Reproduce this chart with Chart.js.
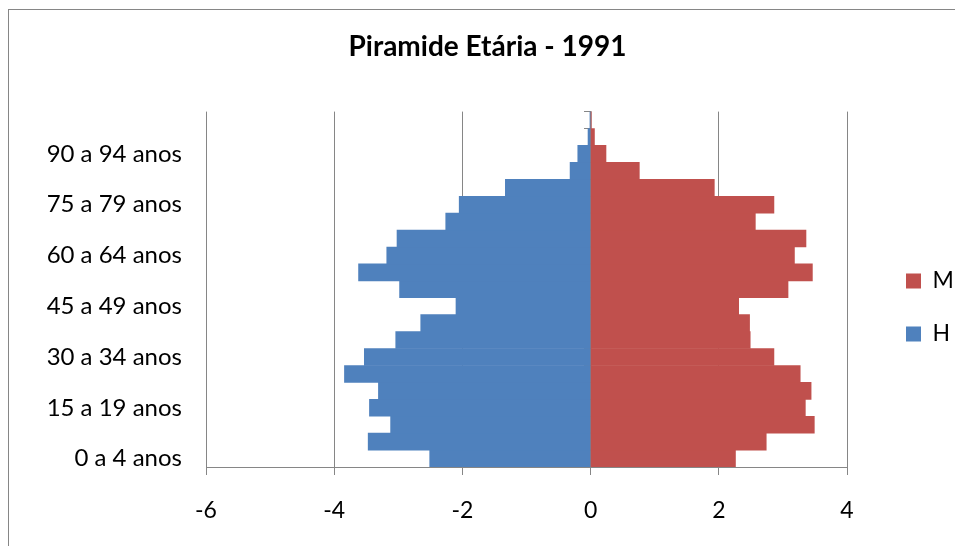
<!DOCTYPE html>
<html>
<head>
<meta charset="utf-8">
<script src="https://cdn.jsdelivr.net/npm/chart.js@4.4.1/dist/chart.umd.min.js"></script>
<style>
  html, body { margin: 0; padding: 0; background: #ffffff; }
  #wrap { width: 955px; height: 546px; }
</style>
</head>
<body>
<div id="wrap"><canvas id="c" width="955" height="546"></canvas></div>
<script>
const ageGroups = ['0 a 4 anos','5 a 9 anos','10 a 14 anos','15 a 19 anos','20 a 24 anos','25 a 29 anos','30 a 34 anos','35 a 39 anos','40 a 44 anos','45 a 49 anos','50 a 54 anos','55 a 59 anos','60 a 64 anos','65 a 69 anos','70 a 74 anos','75 a 79 anos','80 a 84 anos','85 a 89 anos','90 a 94 anos','95 a 99 anos','100 anos e mais'];
const homens = [-2.51,-3.47,-3.12,-3.45,-3.31,-3.84,-3.53,-3.04,-2.65,-2.10,-2.98,-3.62,-3.18,-3.02,-2.26,-2.05,-1.33,-0.32,-0.20,-0.04,-0.01];
const mulheres = [2.26,2.74,3.49,3.35,3.44,3.27,2.86,2.49,2.48,2.31,3.08,3.46,3.18,3.36,2.57,2.86,1.93,0.76,0.24,0.06,0.01];
const xTicks = [-6,-4,-2,0,2,4];
const chartTitle = 'Piramide Etária - 1991';

const FONT = 'Lato, "Open Sans", sans-serif';
const GRAY = '#868686';

const framePlugin = {
  id: 'frame',
  beforeDraw(chart) {
    const ctx = chart.ctx;
    ctx.save();
    ctx.fillStyle = '#ffffff';
    ctx.fillRect(0, 0, chart.width, chart.height);
    ctx.strokeStyle = GRAY;
    ctx.lineWidth = 1;
    ctx.strokeRect(8.5, 9.5, 1200, 800);
    ctx.restore();
  }
};

new Chart(document.getElementById('c'), {
  type: 'bar',
  data: {
    labels: ageGroups,
    datasets: [
      { label: 'M', data: mulheres, backgroundColor: '#C0504D', borderWidth: 0, barPercentage: 1, categoryPercentage: 1, stack: 's' },
      { label: 'H', data: homens, backgroundColor: '#4F81BD', borderWidth: 0, barPercentage: 1, categoryPercentage: 1, stack: 's' }
    ]
  },
  options: {
    indexAxis: 'y',
    responsive: false,
    animation: false,
    layout: { padding: { left: 20, right: 0, top: 0, bottom: 0 } },
    scales: {
      x: {
        type: 'linear',
        stacked: true,
        min: -6, max: 4,
        afterBuildTicks(scale) { scale.ticks = xTicks.map(v => ({ value: v })); },
        afterFit(scale) { scale.height = 79; },
        grid: { color: GRAY, lineWidth: 1, drawTicks: true, tickLength: 8, tickColor: GRAY },
        border: { display: true, color: GRAY, width: 1 },
        ticks: { color: '#000', font: { family: FONT, size: 23 }, padding: 22 }
      },
      y: {
        type: 'category',
        stacked: true,
        reverse: true,
        afterFit(scale) { scale.width = 186; },
        grid: { display: false, drawTicks: false },
        border: { display: false },
        ticks: {
          autoSkip: false,
          color: '#000',
          font: { family: FONT, size: 24 },
          padding: 24,
          callback(value, index) { return index % 3 === 0 ? ageGroups[index] : ''; }
        }
      },
      yZero: {
        type: 'category',
        axis: 'y',
        reverse: true,
        position: { x: 0 },
        z: 1,
        grid: { display: true, drawOnChartArea: false, drawTicks: true, tickLength: 6, tickColor: GRAY, offset: true },
        border: { display: true, color: GRAY, width: 1.5 },
        ticks: { display: false }
      },
      yPad: {
        type: 'linear',
        axis: 'y',
        position: 'right',
        display: true,
        afterFit(scale) { scale.width = 29; },
        grid: { display: false, drawTicks: false },
        border: { display: false },
        ticks: { display: false }
      }
    },
    plugins: {
      title: {
        display: true,
        text: chartTitle,
        color: '#000',
        font: { family: FONT, size: 28, weight: 'bold' },
        padding: { top: 30, bottom: 48 }
      },
      legend: {
        display: true,
        position: 'right',
        fullSize: false,
        align: 'center',
        maxWidth: 79,
        title: { display: true, text: '', padding: { top: 22, bottom: 0 }, font: { size: 12 } },
        labels: {
          boxWidth: 15, boxHeight: 15, padding: 30,
          color: '#000',
          font: { family: FONT, size: 23 }
        }
      },
      tooltip: { enabled: false }
    }
  },
  plugins: [framePlugin]
});
</script>
</body>
</html>
